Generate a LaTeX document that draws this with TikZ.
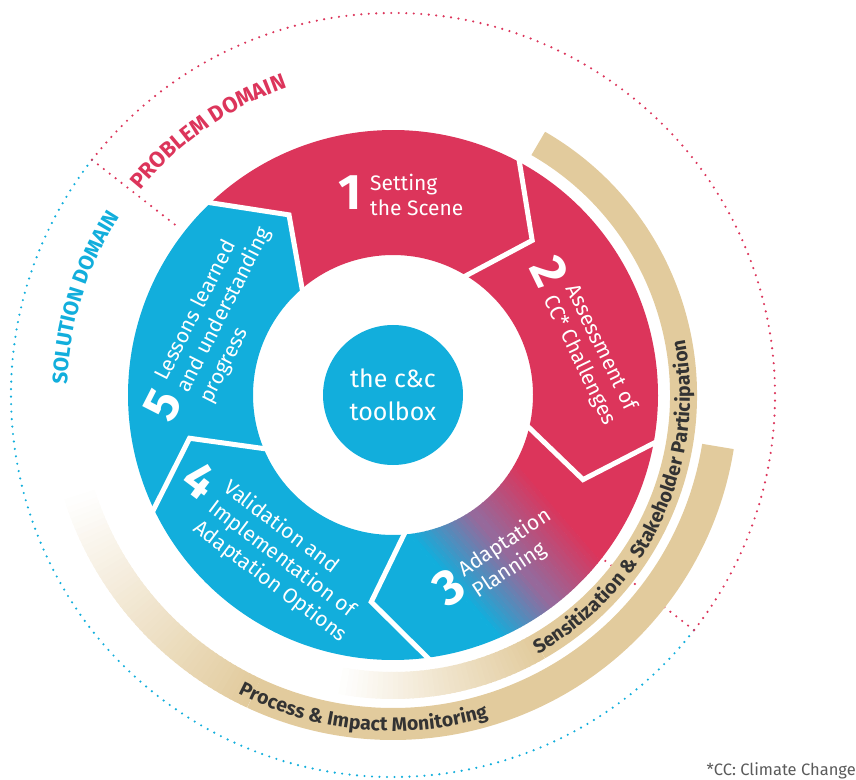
\documentclass[tikz,border=0pt]{standalone}
\usepackage{fontspec}
\setmainfont{Fira Sans}
\usetikzlibrary{decorations.text}

\definecolor{cocred}{RGB}{220,53,91}
\definecolor{cocblue}{RGB}{18,174,220}
\definecolor{cocmid}{RGB}{150,105,155}
\definecolor{coctan}{RGB}{226,203,157}
\definecolor{cocdark}{RGB}{51,51,51}
\definecolor{cocgray}{RGB}{90,90,90}

% one arrow shaped ring piece, from angle #1 clockwise to angle #2
\newcommand{\segpath}[2]{({#1+1.5}:265) arc[start angle={#1+1.5}, end angle={#2+1.5}, radius=265] -- ({#2-12}:208) -- ({#2-1.5}:140) arc[start angle={#2-1.5}, end angle={#1-1.5}, radius=140] -- ({#1-12}:208) -- cycle}

\begin{document}
\begin{tikzpicture}[
  x=1pt, y=1pt,
  num/.style={text=white, inner sep=0pt, font=\bfseries\fontsize{50}{50}\selectfont},
  steptext/.style={text=white, inner sep=0pt, align=left, anchor=west, font=\fontsize{21}{25}\selectfont},
  gap/.style={white, line width=5, line cap=rect},
  dots/.style={line width=2.4, line cap=round, dash pattern=on 0pt off 7.5pt},
  band/.style={coctan, line width=#1}
]
\useasboundingbox (-393,-384) rectangle (463,395);

% Domain circle
\draw[dots, cocred] (142:382) arc[start angle=142, end angle=-38, radius=382];
\draw[dots, cocblue] (142:382) arc[start angle=142, end angle=322, radius=382];
\draw[dots, cocred] (142:382) -- (142:270);
\draw[dots, cocred] (-38:382) -- (-38:268);

% Sensitization band
\draw[band=27] (60:290.5) arc[start angle=60, end angle=-60, radius=290.5];
\foreach \i in {0,...,39}{
  \pgfmathsetmacro\fade{100-2.5*\i}
  \draw[band=27, coctan!\fade!white] ({-60-\i}:290.5) arc[start angle={-60-\i}, end angle={-61.4-\i}, radius=290.5];
}

% Monitoring band
\draw[band=32] (-9:329) arc[start angle=-9, end angle=-115, radius=329];
\foreach \i in {0,...,46}{
  \pgfmathsetmacro\fade{100-2.13*\i}
  \draw[band=32, coctan!\fade!white] ({-115-\i}:329) arc[start angle={-115-\i}, end angle={-116.4-\i}, radius=329];
}

% Band labels
\path[decorate, decoration={text along path, text align=center, text color=cocdark,
  text={|\bfseries\fontsize{19.5}{19.5}\selectfont|Sensitization {\&} Stakeholder Participation}}]
  (-75:297) arc[start angle=-75, end angle=25, radius=297];
\path[decorate, decoration={text along path, text align=center, text color=cocdark,
  text={|\bfseries\fontsize{19.5}{19.5}\selectfont|Process {\&} Impact Monitoring}}]
  (-140:336) arc[start angle=-140, end angle=-51, radius=336];

% Domain labels
\path[decorate, decoration={text along path, text align=center, text color=cocred,
  text={|\bfseries\fontsize{22}{22}\selectfont|PROBLEM DOMAIN}}]
  (150:325) arc[start angle=150, end angle=100, radius=325];
\path[decorate, decoration={text along path, text align=center, text color=cocblue,
  text={|\bfseries\fontsize{21}{21}\selectfont|SOLUTION DOMAIN}}]
  (195:326) arc[start angle=195, end angle=130, radius=326];

% Steps
\fill[cocred] \segpath{132}{60};
\fill[cocred] \segpath{60}{-12};
\begin{scope}
  \clip \segpath{-12}{-84};
  % blend from blue (lower left) to red (upper right)
  \begin{scope}[shift={(102,-142)}, rotate=41]
    \fill[cocblue] (-400,-400) rectangle (-63.5,400);
    \fill[cocred] (67.5,-400) rectangle (400,400);
    \foreach \i in {0,...,15}{
      \pgfmathsetmacro\mix{100*\i/15}
      \fill[cocmid!\mix!cocblue] ({-64+4*\i},-400) rectangle ({-59.5+4*\i},400);
      \fill[cocred!\mix!cocmid] ({4.25*\i},-400) rectangle ({4.75+4.25*\i},400);
    }
  \end{scope}
\end{scope}
\fill[cocblue] \segpath{-84}{-156};
\fill[cocblue] \segpath{-156}{-228};
\foreach \t in {132,60,-12,-84,-156}
  \draw[gap] ({\t+1.5}:265) -- ({\t-12}:208) -- ({\t-1.5}:140);

% Step labels
\begin{scope}[shift={(-43,202)}, transform shape]
  \node[num] (n1) {1};
  \node[steptext] (t1) at (20,-2) {Setting\\the Scene};
\end{scope}
\begin{scope}[shift={(157,123)}, rotate=-64, transform shape]
  \node[num] (n2) {2};
  \node[steptext] (t2) at (22,0) {Assessment of\\CC* Challenges};
\end{scope}
\begin{scope}[shift={(56,-192)}, rotate=33.5, transform shape]
  \node[num] (n3) {3};
  \node[steptext] (t3) at (18,-7) {Adaptation\\Planning};
\end{scope}
\begin{scope}[shift={(-193,-85)}, rotate=-37, transform shape]
  \node[num] (n4) {4};
  \node[steptext] (t4) at (24,-14) {Validation and\\Implementation of\\Adaptation Options};
\end{scope}
\begin{scope}[shift={(-230,-10)}, rotate=63, transform shape]
  \node[num] (n5) {5};
  \node[steptext] (t5) at (22,-12) {Lessons learned\\and understanding\\progress};
\end{scope}

% Centre
\node[circle, fill=cocblue, minimum size=140, inner sep=0pt, text=white, align=center,
  font=\fontsize{25}{33}\selectfont] (toolbox) at (0,0) {the c\&c\\toolbox};

% Footnote
\node[anchor=base east, inner sep=0pt, text=cocgray, font=\fontsize{16.5}{16.5}\selectfont] (note) at (463,-380) {*CC: Climate Change};
\end{tikzpicture}
\end{document}
